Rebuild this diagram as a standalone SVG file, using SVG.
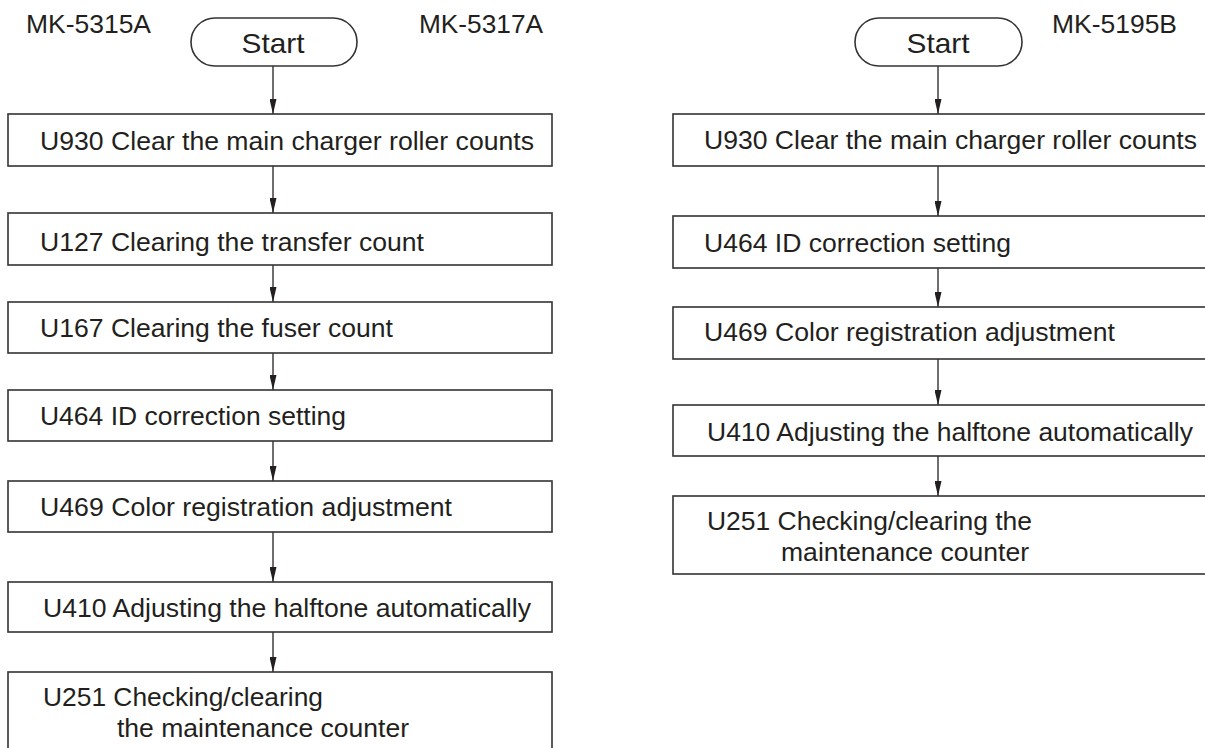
<svg xmlns="http://www.w3.org/2000/svg" width="1205" height="748" viewBox="0 0 1205 748">
<defs>
<marker id="ah" markerUnits="userSpaceOnUse" markerWidth="15" markerHeight="7" refX="15" refY="3.5" orient="auto">
<path d="M0,0 L15,3.5 L0,7 z" fill="#231f20"/>
</marker>
<style>
.box{fill:#fff;stroke:#333;stroke-width:1.6}
.t{font-family:"Liberation Sans",Arial,sans-serif;font-size:26px;fill:#231f20}
.s{font-family:"Liberation Sans",Arial,sans-serif;font-size:28.5px;fill:#231f20}
.c line{stroke:#231f20;stroke-width:1.3;marker-end:url(#ah)}
</style>
</defs>
<rect width="1205" height="748" fill="#fff"/>
<g id="labels">
<text class="t" x="26" y="33" textLength="125" lengthAdjust="spacingAndGlyphs">MK-5315A</text>
<text class="t" x="419" y="33" textLength="124" lengthAdjust="spacingAndGlyphs">MK-5317A</text>
<text class="t" x="1052" y="33" textLength="125" lengthAdjust="spacingAndGlyphs">MK-5195B</text>
</g>
<g class="c" id="connectors">
<line x1="273" y1="66" x2="273" y2="114"/>
<line x1="273" y1="166" x2="273" y2="213"/>
<line x1="273" y1="265" x2="273" y2="302"/>
<line x1="273" y1="353" x2="273" y2="390"/>
<line x1="273" y1="441" x2="273" y2="481"/>
<line x1="273" y1="532" x2="273" y2="582"/>
<line x1="273" y1="632" x2="273" y2="672"/>
<line x1="938" y1="66" x2="938" y2="114"/>
<line x1="938" y1="166" x2="938" y2="216"/>
<line x1="938" y1="268" x2="938" y2="307"/>
<line x1="938" y1="359" x2="938" y2="405"/>
<line x1="938" y1="456" x2="938" y2="496"/>
</g>
<g id="L-start">
<rect class="box" x="191" y="18" width="166" height="48" rx="24"/>
<text class="s" x="273" y="53" text-anchor="middle" textLength="63" lengthAdjust="spacingAndGlyphs">Start</text>
</g>
<g id="L1">
<rect class="box" x="8" y="114" width="544" height="52"/>
<text class="t" x="40" y="150" textLength="494" lengthAdjust="spacingAndGlyphs">U930 Clear the main charger roller counts</text>
</g>
<g id="L2">
<rect class="box" x="8" y="213" width="544" height="52"/>
<text class="t" x="40" y="251" textLength="384" lengthAdjust="spacingAndGlyphs">U127 Clearing the transfer count</text>
</g>
<g id="L3">
<rect class="box" x="8" y="302" width="544" height="51"/>
<text class="t" x="40" y="337" textLength="353" lengthAdjust="spacingAndGlyphs">U167 Clearing the fuser count</text>
</g>
<g id="L4">
<rect class="box" x="8" y="390" width="544" height="51"/>
<text class="t" x="40" y="425" textLength="306" lengthAdjust="spacingAndGlyphs">U464 ID correction setting</text>
</g>
<g id="L5">
<rect class="box" x="8" y="481" width="544" height="51"/>
<text class="t" x="40" y="516" textLength="412" lengthAdjust="spacingAndGlyphs">U469 Color registration adjustment</text>
</g>
<g id="L6">
<rect class="box" x="8" y="582" width="544" height="50"/>
<text class="t" x="43" y="617" textLength="488" lengthAdjust="spacingAndGlyphs">U410 Adjusting the halftone automatically</text>
</g>
<g id="L7">
<rect class="box" x="8" y="672" width="544" height="100"/>
<text class="t" x="43" y="706" textLength="280" lengthAdjust="spacingAndGlyphs">U251 Checking/clearing</text>
<text class="t" x="117" y="737" textLength="292" lengthAdjust="spacingAndGlyphs">the maintenance counter</text>
</g>
<g id="R-start">
<rect class="box" x="855" y="18" width="167" height="48" rx="24"/>
<text class="s" x="938" y="53" text-anchor="middle" textLength="63" lengthAdjust="spacingAndGlyphs">Start</text>
</g>
<g id="R1">
<rect class="box" x="673" y="114" width="560" height="52"/>
<text class="t" x="704" y="149" textLength="493" lengthAdjust="spacingAndGlyphs">U930 Clear the main charger roller counts</text>
</g>
<g id="R2">
<rect class="box" x="673" y="216" width="560" height="52"/>
<text class="t" x="704" y="252" textLength="307" lengthAdjust="spacingAndGlyphs">U464 ID correction setting</text>
</g>
<g id="R3">
<rect class="box" x="673" y="307" width="560" height="52"/>
<text class="t" x="704" y="341" textLength="411" lengthAdjust="spacingAndGlyphs">U469 Color registration adjustment</text>
</g>
<g id="R4">
<rect class="box" x="673" y="405" width="560" height="51"/>
<text class="t" x="707" y="441" textLength="486" lengthAdjust="spacingAndGlyphs">U410 Adjusting the halftone automatically</text>
</g>
<g id="R5">
<rect class="box" x="673" y="496" width="560" height="78"/>
<text class="t" x="707" y="530" textLength="325" lengthAdjust="spacingAndGlyphs">U251 Checking/clearing the</text>
<text class="t" x="781" y="561" textLength="248" lengthAdjust="spacingAndGlyphs">maintenance counter</text>
</g>
</svg>
